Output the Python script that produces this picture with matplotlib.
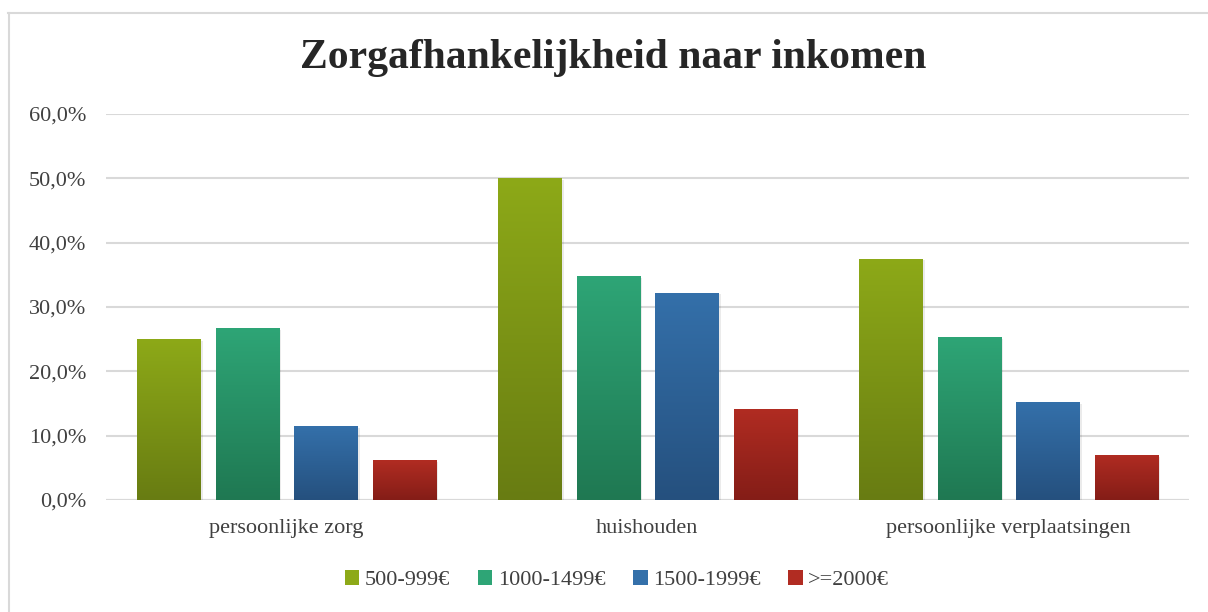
import numpy as np
import matplotlib
matplotlib.use("Agg")
import matplotlib.pyplot as plt
from matplotlib.colors import LinearSegmentedColormap
from matplotlib.patches import Patch
from matplotlib.lines import Line2D

# Data
categories = ["persoonlijke zorg", "huishouden", "persoonlijke verplaatsingen"]
series = ["500-999€", "1000-1499€", "1500-1999€", ">=2000€"]
values = [
    [25.0, 50.0, 37.5],   # 500-999
    [26.7, 34.8, 25.3],   # 1000-1499
    [11.5, 32.2, 15.2],   # 1500-1999
    [6.2, 14.2, 7.0],     # >=2000
]
yticks = [0, 10, 20, 30, 40, 50, 60]

# gradient colours per series: (top, bottom)
grads = [("#8DA918", "#687C12"), ("#2EA576", "#1F7852"),
         ("#3470AA", "#25507E"), ("#B12C22", "#841D17")]

plt.rcParams["font.family"] = ["Liberation Serif", "DejaVu Serif"]
text_col = "#404040"

fig = plt.figure(figsize=(12.08, 6.12), dpi=100)
ax = fig.add_axes([105.5 / 1208, 1 - 500 / 612, 1083 / 1208, 386 / 612])

x = np.arange(len(categories))
width = 0.177
step = 0.2175

grid = np.linspace(1, 0, 256).reshape(-1, 1)
for i, (vals, (top, bot)) in enumerate(zip(values, grads)):
    cmap = LinearSegmentedColormap.from_list(f"g{i}", [bot, top])
    xs = x + (i - 1.5) * step + 0.003
    # soft shadow
    ax.bar(xs + 0.004, vals, width, bottom=-0.25, color="#000000", alpha=0.08, zorder=2, lw=0)
    bars = ax.bar(xs, vals, width, color=top, zorder=3, lw=0)
    for b in bars:
        x0, h = b.get_x(), b.get_height()
        im = ax.imshow(grid, cmap=cmap, aspect="auto", zorder=4,
                       extent=[x0, x0 + width, 0, h], vmin=0, vmax=1)
        im.set_clip_path(b)

ax.set_xlim(-0.5, 2.5)
ax.set_ylim(0, 60)
ax.set_yticks(yticks)
ax.set_yticklabels([f"{v:.1f}%".replace(".", ",") for v in yticks])
ax.set_xticks(x)
ax.set_xticklabels(categories)
ax.tick_params(axis="both", length=0, labelsize=16, colors=text_col)
ax.tick_params(axis="y", pad=14)
ax.tick_params(axis="x", pad=14)
ax.grid(axis="y", color="#D9D9D9", lw=1.5, zorder=0)
for s in ax.spines.values():
    s.set_visible(False)
ax.axhline(0, color="#D9D9D9", lw=1.5, zorder=1)

fig.text(613 / 1208, 1 - 58 / 612, "Zorgafhankelijkheid naar inkomen",
         ha="center", va="center", fontsize=30, fontweight="bold", color="#262626")

handles = [Patch(facecolor=t, edgecolor="none") for t, b in grads]
fig.legend(handles, series, loc="center", bbox_to_anchor=(617 / 1208, 1 - 580 / 612),
           ncol=4, frameon=False, fontsize=16, handlelength=0.65, handleheight=0.65,
           handletextpad=0.25, columnspacing=1.25, labelcolor=text_col)

# outer chart border (partly cut off at right/bottom)
fig.add_artist(Line2D([9 / 1208, 9 / 1208], [0, 1 - 13 / 612], color="#D9D9D9", lw=1.5))
fig.add_artist(Line2D([8 / 1208, 1], [1 - 13 / 612, 1 - 13 / 612], color="#D9D9D9", lw=1.5))

fig.savefig("out.png", dpi=100, facecolor="white")
